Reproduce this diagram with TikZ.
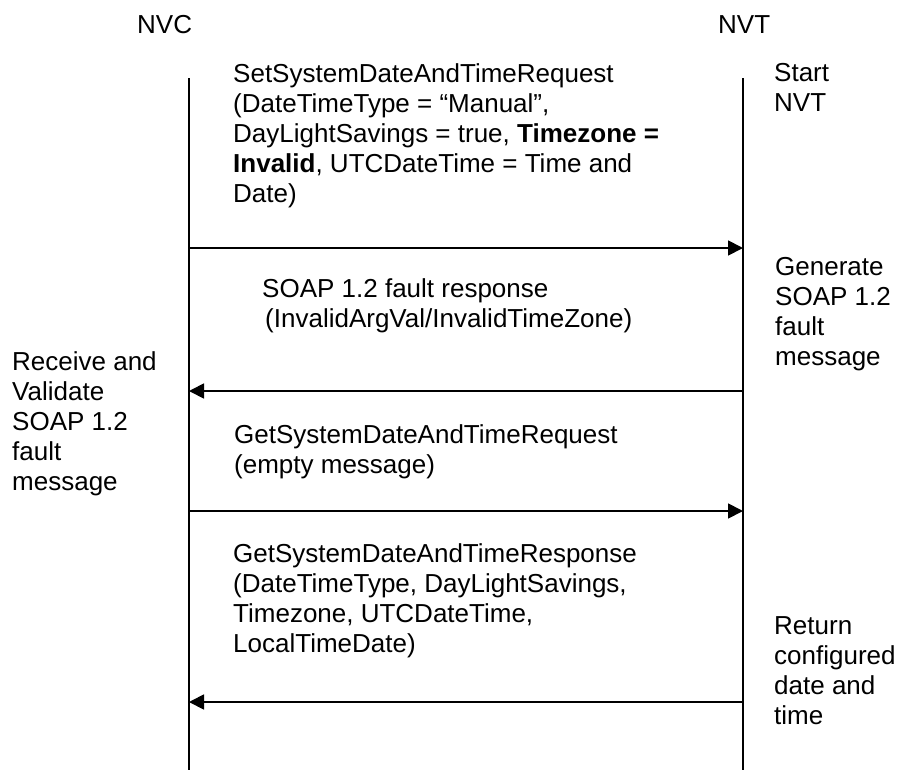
\documentclass[tikz,border=0pt]{standalone}
\usepackage{fontspec}
\setmainfont{Liberation Sans}
\usetikzlibrary{arrows.meta}
\begin{document}
\begin{tikzpicture}[x=1pt,y=-1pt,
  lbl/.style={anchor=north west,inner sep=0pt,align=left,font=\fontsize{26}{30}\selectfont},
  life/.style={line width=1.8pt},
  msg/.style={line width=1.8pt,-{Triangle[length=15pt,width=15pt]}}]
\useasboundingbox (0,0) rectangle (900,771);
% participants
\node[lbl] (nvc) at (137,15) {NVC};
\node[lbl] (nvt) at (718,15) {NVT};
% lifelines
\coordinate (ctop) at (189,78);
\coordinate (cbot) at (189,770);
\coordinate (ttop) at (743,78);
\coordinate (tbot) at (743,770);
\draw[life] (ctop) -- (cbot);
\draw[life] (ttop) -- (tbot);
% message anchor points
\coordinate (c1) at (189,248);
\coordinate (t1) at (743,248);
\coordinate (c2) at (189,391);
\coordinate (t2) at (743,391);
\coordinate (c3) at (189,511);
\coordinate (t3) at (743,511);
\coordinate (c4) at (189,702);
\coordinate (t4) at (743,702);
\draw[msg] (c1) -- (t1);
\draw[msg] (t2) -- (c2);
\draw[msg] (c3) -- (t3);
\draw[msg] (t4) -- (c4);
% message labels
\node[lbl] (m1) at (233,63) {SetSystemDateAndTimeRequest\\(DateTimeType = “Manual”,\\DayLightSavings = true, \textbf{Timezone =}\\\textbf{Invalid}, UTCDateTime = Time and\\Date)};
\node[lbl] (m2) at (262,278) {SOAP 1.2 fault response\\\hspace*{3pt}(InvalidArgVal/InvalidTimeZone)};
\node[lbl] (m3) at (234,424) {GetSystemDateAndTimeRequest\\(empty message)};
\node[lbl] (m4) at (233,543) {GetSystemDateAndTimeResponse\\(DateTimeType, DayLightSavings,\\Timezone, UTCDateTime,\\LocalTimeDate)};
% side notes
\node[lbl] (n1) at (774,63) {Start\\NVT};
\node[lbl] (n2) at (775,257) {Generate\\SOAP 1.2\\fault\\message};
\node[lbl] (n3) at (12,351) {Receive and\\Validate\\SOAP 1.2\\fault\\message};
\node[lbl] (n4) at (774,616) {Return\\configured\\date and\\time};
\end{tikzpicture}
\end{document}
